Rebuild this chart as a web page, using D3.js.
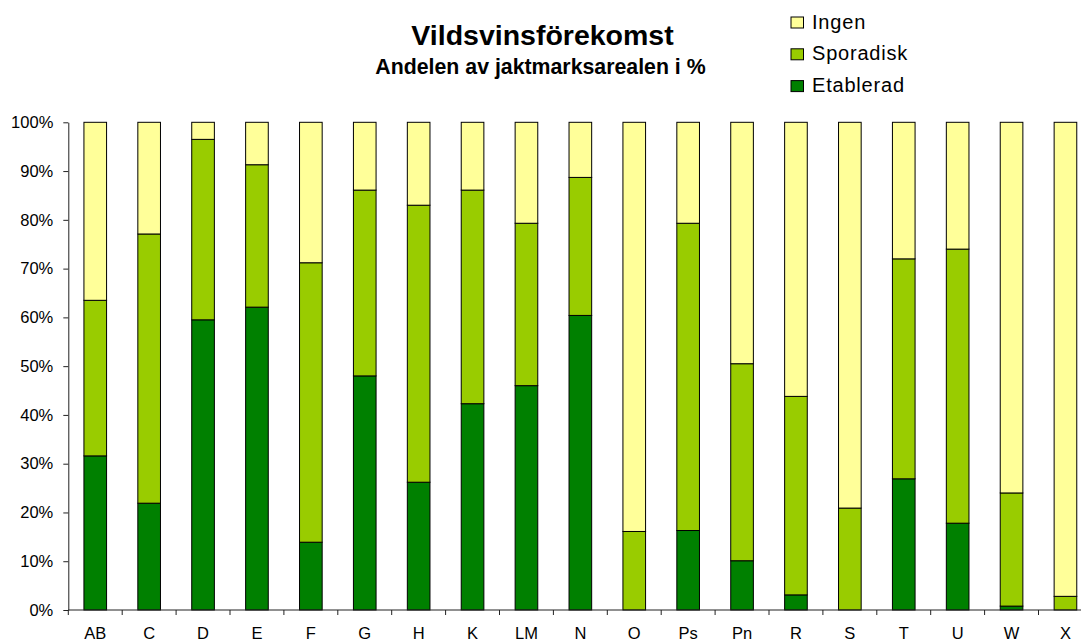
<!DOCTYPE html>
<html>
<head>
<meta charset="utf-8">
<script src="https://cdn.jsdelivr.net/npm/d3@7"></script>
<style>
  body { margin: 0; background: #fff; }
  svg { font-family: "Liberation Sans", Arial, sans-serif; }
</style>
</head>
<body>
<div id="chartArea"></div>
<script>
let categories = ['AB','C','D','E','F','G','H','K','LM','N','O','Ps','Pn','R','S','T','U','W','X']
let etablerad = [31.6, 21.9, 59.5, 62.1, 13.9, 48.0, 26.2, 42.3, 46.0, 60.4, 0, 16.3, 10.1, 3.1, 0, 26.9, 17.8, 0.8, 0]
let sporadisk = [31.9, 55.2, 37.0, 29.2, 57.3, 38.1, 56.8, 43.8, 33.3, 28.3, 16.1, 63.0, 40.4, 40.7, 20.9, 45.1, 56.2, 23.2, 2.8]
let ingen = [36.5, 22.9, 3.5, 8.7, 28.8, 13.9, 17.0, 13.9, 20.7, 11.3, 83.9, 20.7, 49.5, 56.2, 79.1, 28.0, 26.0, 76.0, 97.2]
let yTicks = [0, 10, 20, 30, 40, 50, 60, 70, 80, 90, 100]

let seriesNames = ['Etablerad', 'Sporadisk', 'Ingen']
let colors = { Etablerad: '#008000', Sporadisk: '#99cc00', Ingen: '#ffff99' }

let rows = categories.map((c, i) => ({
  cat: c, Etablerad: etablerad[i], Sporadisk: sporadisk[i], Ingen: ingen[i]
}))

let svgWidth = 1081
let svgHeight = 643

let svg = d3.select('#chartArea')
  .append('svg')
  .attr('width', svgWidth)
  .attr('height', svgHeight)

let xScale = d3.scaleBand()
  .domain(categories)
  .range([68.3, 1092.4])
  .paddingInner(0.58)
  .paddingOuter(0.29)

let yScale = d3.scaleLinear()
  .domain([0, 100])
  .range([610, 122.3])

let stacked = d3.stack().keys(seriesNames)(rows)

// bars
svg.append('g')
  .selectAll('g')
  .data(stacked)
  .enter()
  .append('g')
  .attr('fill', d => colors[d.key])
  .selectAll('rect')
  .data(d => d.filter(p => p[1] - p[0] > 0))
  .enter()
  .append('rect')
  .attr('x', d => xScale(d.data.cat))
  .attr('width', xScale.bandwidth())
  .attr('y', d => yScale(d[1]))
  .attr('height', d => yScale(d[0]) - yScale(d[1]))
  .attr('stroke', '#000')
  .attr('stroke-width', 1)

// y axis
let yAxis = svg.append('g')
  .attr('transform', 'translate(68.3,0)')
  .call(d3.axisLeft(yScale).tickValues(yTicks).tickSize(5).tickSizeOuter(0).tickPadding(10)
    .tickFormat(d => d + '%'))
yAxis.selectAll('text').style('font-size', '16.5px').attr('fill', '#000')
yAxis.selectAll('line, path').attr('stroke', '#222')

// x axis: ticks between categories
let xAxis = svg.append('g')
  .attr('transform', 'translate(0,610)')
xAxis.append('line')
  .attr('x1', 68.3).attr('x2', 1092.4)
  .attr('stroke', '#222')
xAxis.selectAll('.sep')
  .data(categories)
  .enter()
  .append('line')
  .attr('class', 'sep')
  .attr('x1', d => xScale(d) - xScale.step() * xScale.paddingOuter())
  .attr('x2', d => xScale(d) - xScale.step() * xScale.paddingOuter())
  .attr('y1', 0).attr('y2', 5)
  .attr('stroke', '#222')
xAxis.selectAll('.lbl')
  .data(categories)
  .enter()
  .append('text')
  .attr('class', 'lbl')
  .attr('x', d => xScale(d) + xScale.bandwidth() / 2)
  .attr('y', 29.3)
  .attr('text-anchor', 'middle')
  .style('font-size', '16.5px')
  .text(d => d)

// titles
svg.append('text')
  .attr('x', 542.5).attr('y', 45)
  .attr('text-anchor', 'middle')
  .style('font-size', '28.5px').style('font-weight', 'bold')
  .text('Vildsvinsförekomst')
svg.append('text')
  .attr('x', 540.5).attr('y', 74)
  .attr('text-anchor', 'middle')
  .style('font-size', '21.3px').style('font-weight', 'bold')
  .text('Andelen av jaktmarksarealen i %')

// legend
let legendOrder = ['Ingen', 'Sporadisk', 'Etablerad']
let legend = svg.append('g').attr('transform', 'translate(791,17)')
let item = legend.selectAll('g')
  .data(legendOrder)
  .enter()
  .append('g')
  .attr('transform', (d, i) => `translate(0,${i * 31.8})`)
item.append('rect')
  .attr('width', 12.5).attr('height', 11)
  .attr('fill', d => colors[d])
  .attr('stroke', '#000')
item.append('text')
  .attr('x', 21).attr('y', 11.5)
  .style('font-size', '20px')
  .style('letter-spacing', '0.8px')
  .text(d => d)
</script>
</body>
</html>
